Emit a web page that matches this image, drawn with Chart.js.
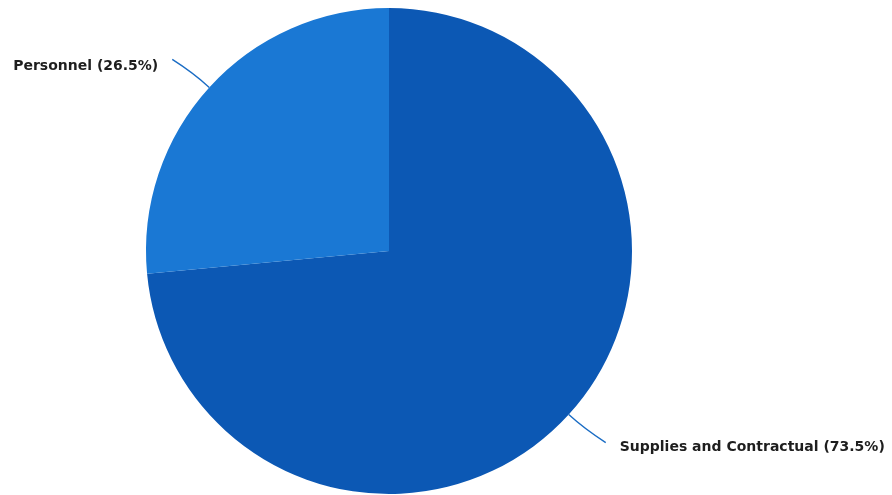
<!DOCTYPE html>
<html>
<head>
<meta charset="utf-8">
<script src="https://cdn.jsdelivr.net/npm/chart.js@4/dist/chart.umd.min.js"></script>
<style>
  html, body { margin: 0; padding: 0; background: #fff; }
  #wrap { width: 892px; height: 495px; }
</style>
</head>
<body>
<div id="wrap"><canvas id="myChart" width="892" height="495"></canvas></div>
<script>
// chart values
const labels = ['Supplies and Contractual', 'Personnel'];
const values = [73.5, 26.5];
const colors = ['#0c58b4', '#1a78d4'];

// draws labels with leader lines outside the pie
const outLabels = {
  id: 'outLabels',
  afterDatasetsDraw(chart) {
    const ctx = chart.ctx;
    const meta = chart.getDatasetMeta(0);
    ctx.save();
    ctx.font = 'bold 14px "DejaVu Sans", Verdana, sans-serif';
    ctx.textBaseline = 'middle';
    ctx.fillStyle = '#1e1e1e';
    ctx.strokeStyle = '#1a6cc4';
    ctx.lineWidth = 1.4;
    meta.data.forEach(function(arc, i) {
      const p = arc.getProps(['x', 'y', 'startAngle', 'endAngle', 'outerRadius'], true);
      const mid = (p.startAngle + p.endAngle) / 2;
      const cx = Math.cos(mid), cy = Math.sin(mid);
      const ex = p.x + cx * p.outerRadius, ey = p.y + cy * p.outerRadius;
      const sx = cx < 0 ? -1 : 1, sy = cy < 0 ? -1 : 1;
      const kx = ex + cx * 22, ky = ey + cy * 22;
      const tx = ex + sx * 37, ty = ey + sy * 28;
      ctx.beginPath();
      ctx.moveTo(ex, ey);
      ctx.quadraticCurveTo(kx, ky, tx, ty);
      ctx.stroke();
      const text = labels[i] + ' (' + values[i].toFixed(1) + '%)';
      ctx.textAlign = sx < 0 ? 'right' : 'left';
      ctx.fillText(text, tx + sx * 14, ty + (sy < 0 ? 7 : 5));
    });
    ctx.restore();
  }
};

const myChart = new Chart(document.getElementById('myChart'), {
  type: 'pie',
  data: {
    labels: labels,
    datasets: [{
      data: values,
      backgroundColor: colors,
      borderWidth: 0
    }]
  },
  options: {
    responsive: false,
    animation: false,
    layout: { padding: { left: 0, right: 114, top: 8, bottom: 1 } },
    plugins: {
      legend: { display: false },
      tooltip: { enabled: false }
    }
  },
  plugins: [outLabels]
});
</script>
</body>
</html>
